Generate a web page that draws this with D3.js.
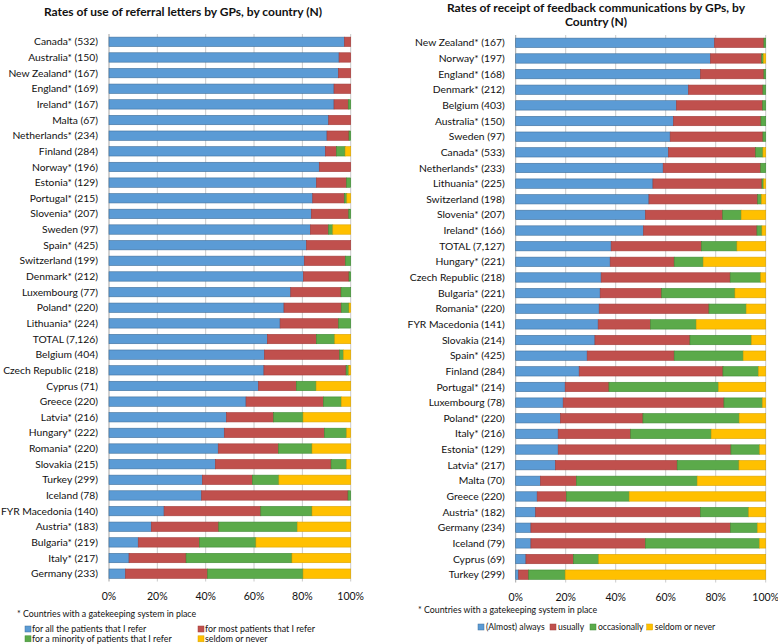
<!DOCTYPE html>
<html><head><meta charset="utf-8">
<script src="https://cdn.jsdelivr.net/npm/d3@7"></script>
<style>
body{margin:0;background:#fff;}
svg{font-family:Lato, "Open Sans", sans-serif;}
</style></head>
<body><svg id="c" width="778" height="644"></svg>
<script>
// ---------- Left chart data ----------
const leftTitle = "Rates of use of referral letters by GPs, by country (N)";
const leftCountries = ["Canada* (532)","Australia* (150)","New Zealand* (167)","England* (169)","Ireland* (167)","Malta (67)","Netherlands* (234)","Finland (284)","Norway* (196)","Estonia* (129)","Portugal* (215)","Slovenia* (207)","Sweden (97)","Spain* (425)","Switzerland (199)","Denmark* (212)","Luxembourg (77)","Poland* (220)","Lithuania* (224)","TOTAL (7,126)","Belgium (404)","Czech Republic (218)","Cyprus (71)","Greece (220)","Latvia* (216)","Hungary* (222)","Romania* (220)","Slovakia (215)","Turkey (299)","Iceland (78)","FYR Macedonia (140)","Austria* (183)","Bulgaria* (219)","Italy* (217)","Germany (233)"];
const leftAll      = [97.4,95.2,94.9,93.1,93.1,90.9,90.2,89.5,87.0,85.8,84.3,83.7,83.3,81.7,80.8,80.4,75.2,72.4,70.8,65.5,64.3,64.1,61.8,56.7,48.6,47.7,45.2,44.0,38.6,38.3,22.8,17.5,12.1,8.3,6.8];
const leftMost     = [2.6,4.8,5.1,6.9,5.9,9.1,9.1,4.6,13.0,12.5,13.1,15.5,7.5,18.3,17.0,18.9,20.8,23.7,24.2,20.3,31.1,34.0,15.7,32.0,19.5,41.4,24.9,47.9,20.7,60.6,40.0,27.9,25.3,23.6,34.0];
const leftMinority = [0,0,0,0,1.0,0,0.7,3.6,0,1.7,1.0,0.8,1.8,0,2.2,0.7,4.0,3.2,5.0,7.6,1.6,1.1,8.2,7.4,12.2,9.2,13.9,6.4,11.0,1.1,21.2,32.5,23.4,43.8,39.5];
const leftSeldom   = [0,0,0,0,0,0,0,2.3,0,0,1.6,0,7.4,0,0,0,0,0.7,0,6.6,3.0,0.8,14.3,3.9,19.7,1.7,16.0,1.7,29.7,0,16.0,22.1,39.2,24.3,19.7];
const leftLegend = ["for all the patients that I refer","for most patients that I refer","for a minority of patients that I refer","seldom or never"];

// ---------- Right chart data ----------
const rightTitle = ["Rates of receipt of feedback communications by GPs, by","Country (N)"];
const rightCountries = ["New Zealand* (167)","Norway* (197)","England* (168)","Denmark* (212)","Belgium (403)","Australia* (150)","Sweden (97)","Canada* (533)","Netherlands* (233)","Lithuania* (225)","Switzerland (198)","Slovenia* (207)","Ireland* (166)","TOTAL (7,127)","Hungary* (221)","Czech Republic (218)","Bulgaria* (221)","Romania* (220)","FYR Macedonia (141)","Slovakia (214)","Spain* (425)","Finland (284)","Portugal* (214)","Luxembourg (78)","Poland* (220)","Italy* (216)","Estonia* (129)","Latvia* (217)","Malta (70)","Greece (220)","Austria* (182)","Germany (234)","Iceland (79)","Cyprus (69)","Turkey (299)"];
const rightAlways       = [79.5,77.9,73.9,69.1,64.3,63.1,61.8,61.1,59.0,54.9,53.3,51.9,51.1,38.2,37.8,34.2,33.8,33.4,33.0,31.7,28.6,25.4,19.8,19.0,17.9,17.0,17.0,15.9,9.9,8.6,8.0,6.1,6.1,4.1,1.2];
const rightUsually      = [19.8,20.5,25.4,29.8,34.5,35.0,37.1,34.9,39.0,43.6,43.5,30.9,45.4,36.1,25.6,51.6,24.6,43.9,20.9,38.0,34.8,57.5,17.5,64.3,33.0,29.0,69.1,48.7,14.4,11.7,65.9,79.8,45.8,19.0,4.0];
const rightOccasionally = [0.7,0.7,0.7,1.1,1.2,1.9,1.1,2.9,2.0,0.7,1.5,7.4,2.0,14.2,11.6,12.2,29.3,14.9,18.3,24.6,27.6,14.2,43.8,15.4,38.5,32.2,11.5,24.7,48.3,25.1,19.3,10.8,45.6,10.1,14.6];
const rightSeldom       = [0,0.9,0,0,0,0,0,1.1,0,0.8,1.7,9.8,1.5,11.5,25.0,2.0,12.3,7.8,27.8,5.7,9.0,2.9,18.9,1.3,10.6,21.8,2.4,10.7,27.4,54.6,6.8,3.3,2.5,66.8,80.2];
const rightLegend = ["(Almost) always","usually","occasionally","seldom or never"];

const ticks = [0,20,40,60,80,100];
const fills   = ["#5B9BD5","#C0504D","#5BAA4A","#FFC000"];
const strokes = ["#41719C","#A33D3A","#3F8A34","#D9A300"];

const svg = d3.select("#c");

function drawChart(cfg){
  const g = svg.append("g");
  const keys = ["a","b","c","d"];
  const rows = cfg.countries.map((c,i)=>({name:c,a:cfg.vals[0][i],b:cfg.vals[1][i],c:cfg.vals[2][i],d:cfg.vals[3][i]}));
  const x = d3.scaleLinear().domain([0,100]).range([cfg.x0,cfg.x1]);
  const y = d3.scaleBand().domain(cfg.countries).range([cfg.y0,cfg.y1]).paddingInner(0.4).paddingOuter(0.2);
  g.selectAll("line.grid").data(ticks).join("line")
    .attr("x1",d=>x(d)).attr("x2",d=>x(d))
    .attr("y1",cfg.y0).attr("y2",cfg.y1)
    .attr("stroke",d=>d===0?"#8c8c8c":"#bcbcbc").attr("stroke-width",0.8);
  const stack = d3.stack().keys(keys)(rows);
  stack.forEach((layer,li)=>{
    g.selectAll(null).data(layer.filter(d=>d[1]-d[0]>0)).join("rect")
      .attr("x",d=>x(d[0])).attr("width",d=>x(d[1])-x(d[0]))
      .attr("y",d=>y(d.data.name)).attr("height",y.bandwidth())
      .attr("fill",fills[li]).attr("stroke",strokes[li]).attr("stroke-width",0.6);
  });
  g.selectAll("text.cat").data(cfg.countries).join("text")
    .attr("x",cfg.x0-11).attr("y",d=>y(d)+y.bandwidth()/2)
    .attr("dy","0.35em").attr("text-anchor","end")
    .attr("font-size",10.3).attr("fill","#111").text(d=>d);
  g.selectAll("text.tick").data(ticks).join("text")
    .attr("x",d=>x(d)).attr("y",cfg.tickY).attr("dy","0.35em")
    .attr("text-anchor","middle").attr("font-size",10.5).attr("fill","#111")
    .text(d=>d+"%");
  return {x,y};
}

drawChart({countries:leftCountries,vals:[leftAll,leftMost,leftMinority,leftSeldom],x0:109,x1:350.7,y0:34,y1:581.5,tickY:596});
drawChart({countries:rightCountries,vals:[rightAlways,rightUsually,rightOccasionally,rightSeldom],x0:515.7,x1:765.7,y0:35,y1:582.5,tickY:597});

svg.append("text").attr("x",183).attr("y",12).attr("dy","0.35em").attr("text-anchor","middle")
  .attr("font-size",12).attr("font-weight","bold").attr("fill","#111").text(leftTitle);
svg.append("g").selectAll("text").data(rightTitle).join("text")
  .attr("x",596).attr("y",(d,i)=>8+i*14).attr("dy","0.35em").attr("text-anchor","middle")
  .attr("font-size",12).attr("font-weight","bold").attr("fill","#111").text(d=>d);

const foot = "* Countries with a gatekeeping system in place";
svg.append("text").attr("x",17).attr("y",613.5).attr("dy","0.35em").attr("font-size",8.8).attr("fill","#111").text(foot);
svg.append("text").attr("x",418).attr("y",610).attr("dy","0.35em").attr("font-size",8.8).attr("fill","#111").text(foot);

const lpos = [[25,629],[198,629],[25,638.8],[198,638.8]];
const lg = svg.append("g");
leftLegend.forEach((t,i)=>{
  lg.append("rect").attr("x",lpos[i][0]).attr("y",lpos[i][1]-3).attr("width",6).attr("height",6)
    .attr("fill",fills[i]).attr("stroke",strokes[i]).attr("stroke-width",0.5);
  lg.append("text").attr("x",lpos[i][0]+7).attr("y",lpos[i][1]).attr("dy","0.35em")
    .attr("font-size",8.9).attr("fill","#111").text(t);
});
const rx = [478,550,590,646.7];
const rg = svg.append("g");
rightLegend.forEach((t,i)=>{
  rg.append("rect").attr("x",rx[i]).attr("y",627-3).attr("width",6).attr("height",6)
    .attr("fill",fills[i]).attr("stroke",strokes[i]).attr("stroke-width",0.5);
  rg.append("text").attr("x",rx[i]+8).attr("y",627).attr("dy","0.35em")
    .attr("font-size",8.6).attr("fill","#111").text(t);
});
</script></body></html>
